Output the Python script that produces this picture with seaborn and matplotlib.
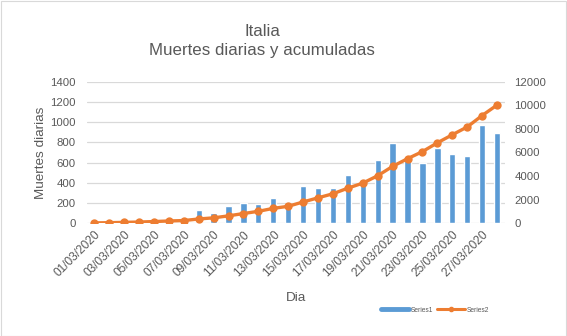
import numpy as np
import pandas as pd
import matplotlib
matplotlib.use("Agg")
import matplotlib.pyplot as plt
import seaborn as sns
from matplotlib.lines import Line2D
from matplotlib.patches import Rectangle

fechas = [f"{d:02d}/03/2020" for d in range(1, 29)]
diarias = [5, 18, 27, 28, 41, 49, 36, 133, 97, 168, 196, 189, 250, 175,
           368, 349, 345, 475, 427, 627, 793, 651, 601, 743, 683, 662, 969, 889]
acumuladas = [34, 52, 79, 107, 148, 197, 233, 366, 463, 631, 827, 1016, 1266, 1441,
              1809, 2158, 2503, 2978, 3405, 4032, 4825, 5476, 6077, 6820, 7503, 8165, 9134, 10023]
izq_ticks = [0, 200, 400, 600, 800, 1000, 1200, 1400]
der_ticks = [0, 2000, 4000, 6000, 8000, 10000, 12000]

df = pd.DataFrame({"Dia": fechas, "diarias": diarias, "acumuladas": acumuladas, "idx": range(len(fechas))})

sns.set_style("white")
plt.rcParams['font.family'] = ['Liberation Sans', 'DejaVu Sans']
gray = "#595959"
blue = "#5B9BD5"
orange = "#ED7D31"

fig = plt.figure(figsize=(5.67, 3.36), dpi=100)
ax = fig.add_axes([86.8/567, 1 - 223.3/336, (504.5 - 86.8)/567, (223.3 - 81.7)/336])

sns.barplot(data=df, x="Dia", y="diarias", color=blue, width=0.42, ax=ax, saturation=1)
ax.set_ylim(0, 1400)
ax.set_xlim(-0.5, len(fechas) - 0.5)
ax.set_yticks(izq_ticks)
ax.yaxis.grid(True, color="#D9D9D9", linewidth=0.9)
ax.set_axisbelow(True)
for s in ax.spines.values():
    s.set_visible(False)
ax.tick_params(axis="y", length=0, labelsize=8.2, labelcolor=gray, pad=8)
ax.tick_params(axis="x", length=0, labelsize=8.6, labelcolor=gray, pad=4)
ax.set_xticks(range(0, len(fechas), 2))
ax.set_xticklabels(fechas[::2], rotation=45, ha="right", rotation_mode="anchor")
ax.set_xlabel("Dia", fontsize=9.7, color=gray, labelpad=9)
ax.set_ylabel("Muertes diarias", fontsize=9.7, color=gray, labelpad=2)

ax2 = ax.twinx()
sns.lineplot(data=df, x="idx", y="acumuladas", color=orange, linewidth=2.4,
             marker="o", markersize=6, markeredgewidth=0, ax=ax2)
ax2.set_ylim(0, 12000)
ax2.set_yticks(der_ticks)
ax2.set_xlim(-0.5, len(fechas) - 0.5)
ax2.set_ylabel("")
for s in ax2.spines.values():
    s.set_visible(False)
ax2.tick_params(axis="y", length=0, labelsize=8.2, labelcolor=gray, pad=7)

fig.text(262/567, 1 - 31/336, "Italia", ha="center", va="center", fontsize=12.2, color=gray)
fig.text(262/567, 1 - 51/336, "Muertes diarias y acumuladas", ha="center", va="center", fontsize=12.2, color=gray)

handles = [Line2D([0], [0], color=blue, linewidth=3.5),
           Line2D([0], [0], color=orange, linewidth=2.2, marker="o", markersize=3)]
fig.legend(handles, ["Series1", "Series2"], loc="center", bbox_to_anchor=(435/567, 1 - 310/336),
           ncol=2, frameon=False, fontsize=4.8, handlelength=4.2, columnspacing=0.5,
           handletextpad=0.3, labelcolor=gray)

fig.patches.append(Rectangle((0.5/567, 0.5/336), 1 - 1.5/567, 1 - 1.5/336, transform=fig.transFigure,
                             fill=False, edgecolor="#D9D9D9", linewidth=0.8))

fig.savefig("out.png", dpi=100)
